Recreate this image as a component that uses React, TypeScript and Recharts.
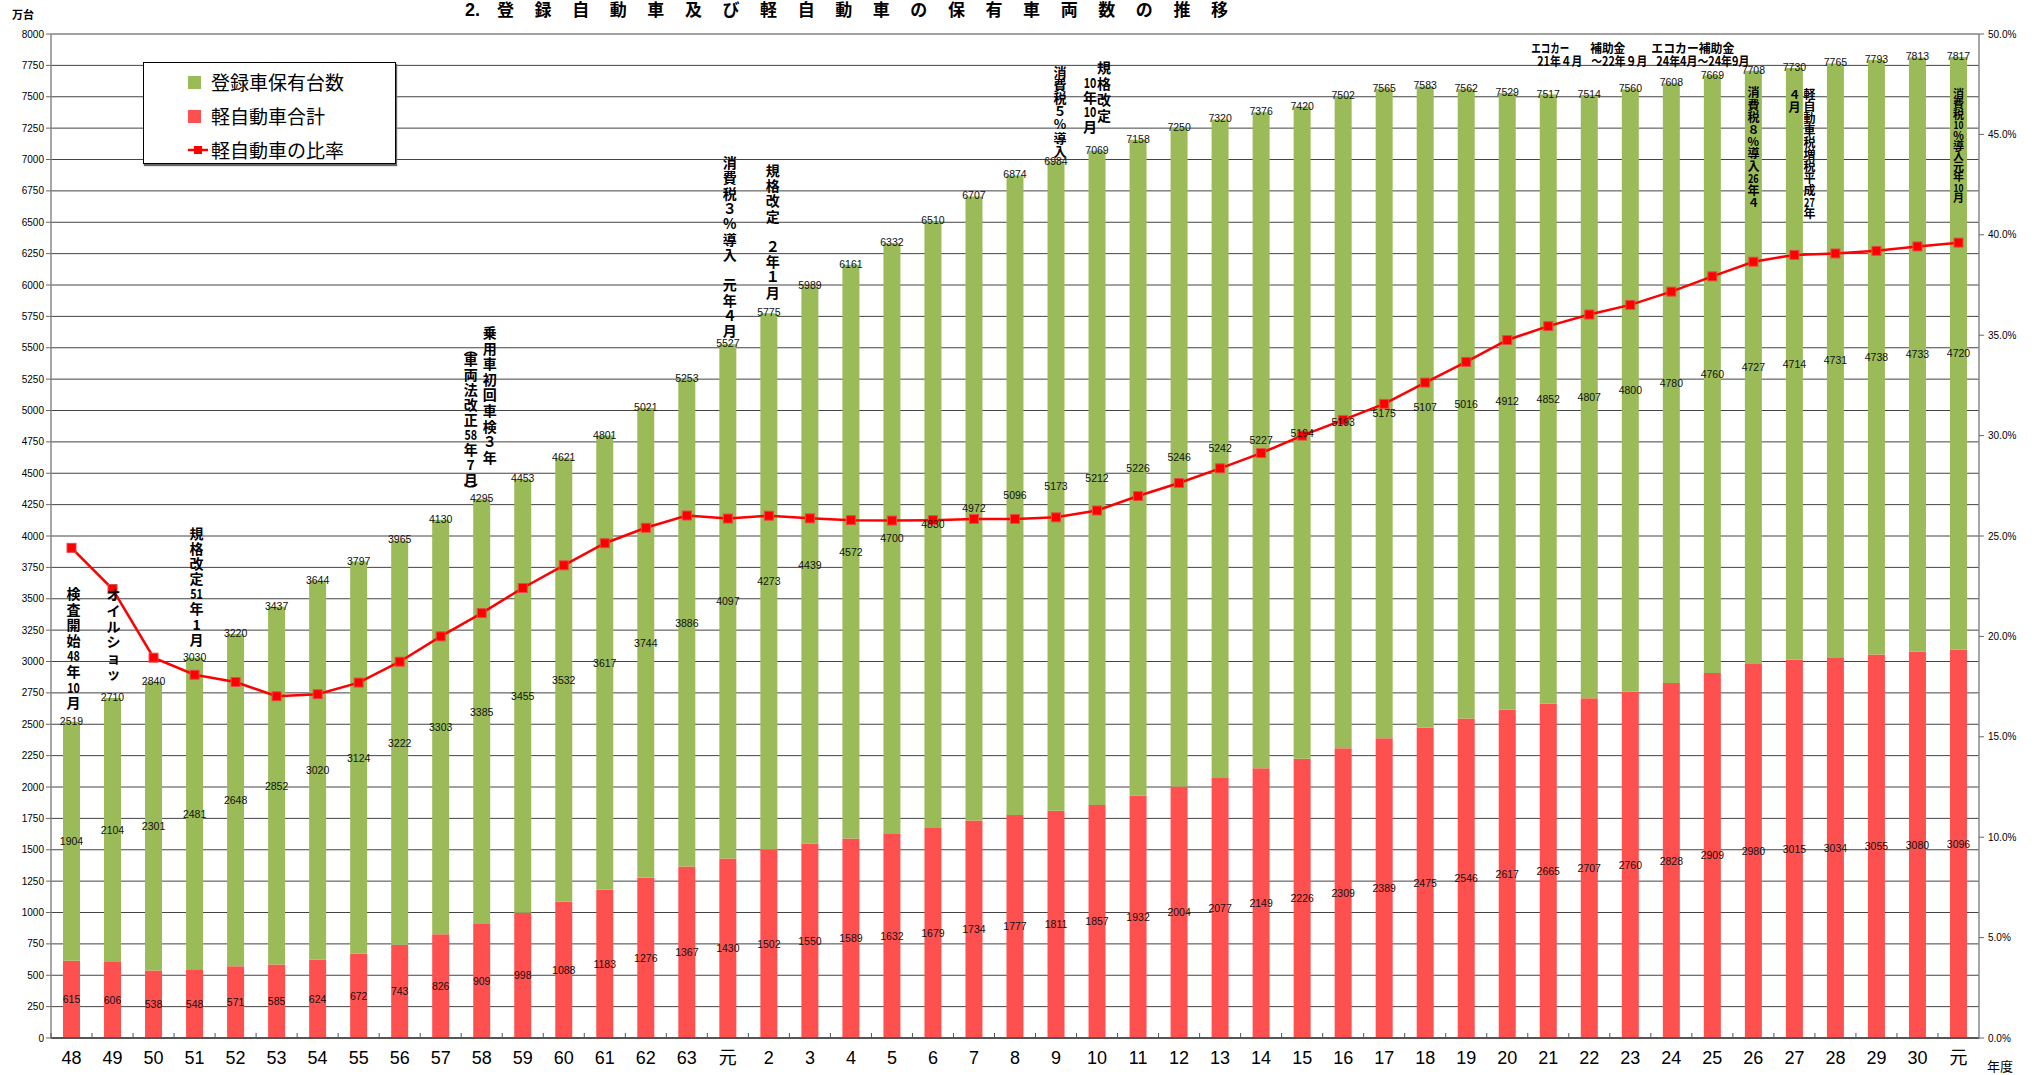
import React from 'react';
import { ComposedChart, Bar, Line, XAxis, YAxis, CartesianGrid, LabelList, ReferenceDot } from 'recharts';

const JP = '"Noto Sans CJK JP", "Noto Sans", sans-serif';
const NUM = '"Liberation Sans", Arial, "Noto Sans CJK JP", sans-serif';

const years = ['48', '49', '50', '51', '52', '53', '54', '55', '56', '57', '58', '59', '60', '61', '62', '63', '元',
  '2', '3', '4', '5', '6', '7', '8', '9', '10', '11', '12', '13', '14', '15', '16', '17', '18', '19', '20',
  '21', '22', '23', '24', '25', '26', '27', '28', '29', '30', '元'];

// 登録車保有台数 (green)
const registered = [1904, 2104, 2301, 2481, 2648, 2852, 3020, 3124, 3222, 3303, 3385, 3455, 3532, 3617, 3744, 3886, 4097,
  4273, 4439, 4572, 4700, 4830, 4972, 5096, 5173, 5212, 5226, 5246, 5242, 5227, 5194, 5193, 5175, 5107, 5016, 4912,
  4852, 4807, 4800, 4780, 4760, 4727, 4714, 4731, 4738, 4733, 4720];

// 軽自動車合計 (red)
const keiTotal = [615, 606, 538, 548, 571, 585, 624, 672, 743, 826, 909, 998, 1088, 1183, 1276, 1367, 1430,
  1502, 1550, 1589, 1632, 1679, 1734, 1777, 1811, 1857, 1932, 2004, 2077, 2149, 2226, 2309, 2389, 2475, 2546, 2617,
  2665, 2707, 2760, 2828, 2909, 2980, 3015, 3034, 3055, 3080, 3096];

// total labels on top of bars
const allTotal = [2519, 2710, 2840, 3030, 3220, 3437, 3644, 3797, 3965, 4130, 4295, 4453, 4621, 4801, 5021, 5253, 5527,
  5775, 5989, 6161, 6332, 6510, 6707, 6874, 6984, 7069, 7158, 7250, 7320, 7376, 7420, 7502, 7565, 7583, 7562, 7529,
  7517, 7514, 7560, 7608, 7669, 7708, 7730, 7765, 7793, 7813, 7817];

// 軽自動車の比率 (%)
const keiRatio = [24.41, 22.36, 18.94, 18.09, 17.73, 17.02, 17.12, 17.7, 18.74, 20.0, 21.16, 22.41, 23.54, 24.64, 25.41, 26.02, 25.87,
  26.01, 25.88, 25.79, 25.77, 25.79, 25.85, 25.85, 25.93, 26.27, 26.99, 27.64, 28.37, 29.13, 30.0, 30.78, 31.58, 32.64, 33.67, 34.76,
  35.45, 36.03, 36.51, 37.17, 37.93, 38.66, 39.0, 39.07, 39.2, 39.42, 39.61];

const leftTicks = [0, 250, 500, 750, 1000, 1250, 1500, 1750, 2000, 2250, 2500, 2750, 3000, 3250, 3500, 3750, 4000,
  4250, 4500, 4750, 5000, 5250, 5500, 5750, 6000, 6250, 6500, 6750, 7000, 7250, 7500, 7750, 8000];
const rightTicks = [0, 5, 10, 15, 20, 25, 30, 35, 40, 45, 50];

// vertical notes: anchored at a bar (index) and a value on the left axis
const notes = [
  { at: 0, y: 3546, dx: 2, step: 15.6, size: 14, tokens: ['検', '査', '開', '始', '48', '年', '10', '月'] },
  { at: 1, y: 3538, dx: 1, step: 15.8, size: 14, tokens: ['オ', 'イ', 'ル', 'シ', 'ョ', 'ッ'] },
  { at: 3, y: 4024, dx: 2, step: 15.1, size: 14, tokens: ['規', '格', '改', '定', '51', '年', '1', '月'] },
  { at: 10, y: 5625, dx: 8, step: 15.6, size: 14, tokens: ['乗', '用', '車', '初', '回', '車', '検', '３', '年'] },
  { at: 10, y: 5498, dx: -11, step: 15, size: 14, tokens: ['︵', '車', '両', '法', '改', '正', '58', '年', '7', '月', '︶'] },
  { at: 16, y: 6980, dx: 2, step: 15.3, size: 14, tokens: ['消', '費', '税', '３', '%', '導', '入', '', '元', '年', '４', '月'] },
  { at: 17, y: 6916, dx: 4, step: 15.2, size: 14, tokens: ['規', '格', '改', '定', '', '２', '年', '１', '月'] },
  { at: 24, y: 7705, dx: 4, step: 13.2, size: 13, tokens: ['消', '費', '税', '５', '%', '導', '入'] },
  { at: 25, y: 7737, dx: 7, step: 16, size: 14, tokens: ['規', '格', '改', '定'] },
  { at: 25, y: 7618, dx: -7, step: 14.7, size: 14, tokens: ['10', '年', '10', '月'] },
  { at: 41, y: 7538, dx: 0, step: 12.2, size: 12, tokens: ['消', '費', '税', '８', '%', '導', '入', '26', '年', '４'] },
  { at: 42, y: 7522, dx: 0, step: 13, size: 12, tokens: ['４', '月'] },
  { at: 42, y: 7522, dx: 15, step: 11.9, size: 12, tokens: ['軽', '自', '動', '車', '税', '増', '税', '平', '成', '27', '年'] },
  { at: 46, y: 7530, dx: 0, step: 10.4, size: 11, tokens: ['消', '費', '税', '10', '%', '導', '入', '元', '年', '10', '月'] },
];

// horizontal notes near the top
const topNotes = [
  { at: 36, y: 7896, dx: -17, w: 38, text: 'エコカー' },
  { at: 36, y: 7896, dx: 42, w: 35, text: '補助金' },
  { at: 36, y: 7785, dx: -11, w: 45, text: '21年４月' },
  { at: 36, y: 7785, dx: 43, w: 56, text: '～22年９月' },
  { at: 39, y: 7896, dx: -20, w: 83, text: 'エコカー補助金' },
  { at: 39, y: 7785, dx: -15, w: 93, text: '24年4月～24年9月' },
];

const data = years.map((y, i) => ({
  key: String(i),
  kei: keiTotal[i],
  reg: registered[i],
  total: allTotal[i],
  ratio: keiRatio[i],
}));

const isParen = (t: string) => t === '︵' || t === '︶';

function VNote({ cx, cy, note }: any) {
  let pos = cy;
  const out: any[] = [];
  note.tokens.forEach((t: string, i: number) => {
    if (i > 0) {
      const prev = note.tokens[i - 1];
      pos += isParen(prev) || isParen(t) ? note.step * 0.7 : note.step;
    }
    if (!t) return;
    const extra = t.length > 1 ? { textLength: note.size * 0.9, lengthAdjust: 'spacingAndGlyphs' } : {};
    out.push(
      <text key={i} x={cx + note.dx} y={pos} textAnchor="middle" dominantBaseline="central"
        fontSize={note.size} fontWeight={700} fontFamily={JP} fill="#000" {...extra}>{t}</text>
    );
  });
  return <g>{out}</g>;
}

function HNote({ cx, cy, note }: any) {
  return (
    <text x={cx + note.dx} y={cy} textAnchor="start" dominantBaseline="central" textLength={note.w}
      lengthAdjust="spacingAndGlyphs" fontSize={12.5} fontWeight={700} fontFamily={JP} fill="#000">{note.text}</text>
  );
}

const vb = (p: any) => p.viewBox || p;

const centerLabel = (p: any) => {
  const { x, y, width, height } = vb(p);
  return (
    <text x={x + width / 2} y={y + height / 2} textAnchor="middle" dominantBaseline="central"
      fontSize={10.5} fontFamily={NUM} fill="#111">{p.value}</text>
  );
};

const topLabel = (p: any) => {
  const { x, y, width } = vb(p);
  return (
    <text x={x + width / 2} y={y - 1} textAnchor="middle" dominantBaseline="central"
      fontSize={10.5} fontFamily={NUM} fill="#111">{p.value}</text>
  );
};

const SquareDot = (p: any) => {
  const { cx, cy } = p;
  if (cx == null || cy == null) return null;
  return <rect x={cx - 4.5} y={cy - 4.5} width={9} height={9} fill="#FF0000" stroke="#E84A4A" strokeWidth={1} />;
};

const XTick = (p: any) => {
  const { x, y, payload } = p;
  const half = payload && payload.offset ? payload.offset : 20.5;
  return (
    <g>
      <line x1={x - half} x2={x - half} y1={y} y2={y - 5} stroke="#555" strokeWidth={1} />
      <text x={x} y={y + 20} textAnchor="middle" dominantBaseline="central" fontSize={18}
        fontFamily={NUM} fill="#000">{years[Number(payload.value)]}</text>
    </g>
  );
};

export default function App() {
  return (
    <div style={{ position: 'absolute', left: 0, top: 0, width: 2037, height: 1075, background: '#fff' }}>
      <ComposedChart width={2037} height={1075} data={data} margin={{ top: 34, right: 0, bottom: 0, left: 0 }}>
        <CartesianGrid yAxisId="left" vertical={false} stroke="#444" strokeWidth={1} />
        <XAxis dataKey="key" height={37} interval={0} tickLine={false} tickSize={0} tickMargin={0}
          axisLine={{ stroke: '#555', strokeWidth: 2 }} tick={<XTick />} />
        <YAxis yAxisId="left" domain={[0, 8000]} ticks={leftTicks} interval={0} width={51}
          tickSize={5} tickMargin={2} axisLine={{ stroke: '#888', strokeWidth: 1.5 }} tickLine={{ stroke: '#666' }}
          tick={{ fontSize: 10, fill: '#000', fontFamily: NUM }} />
        <YAxis yAxisId="right" orientation="right" domain={[0, 50]} ticks={rightTicks} interval={0} width={58}
          tickSize={5} tickMargin={4} axisLine={{ stroke: '#888', strokeWidth: 1.5 }} tickLine={{ stroke: '#666' }}
          tick={{ fontSize: 10, fill: '#000', fontFamily: NUM }} tickFormatter={(v: number) => v.toFixed(1) + '%'} />
        <Bar yAxisId="left" dataKey="kei" stackId="a" fill="#FF5050" barSize={17} isAnimationActive={false}>
          <LabelList dataKey="kei" content={centerLabel} />
        </Bar>
        <Bar yAxisId="left" dataKey="reg" stackId="a" fill="#9BBB59" barSize={17} isAnimationActive={false}>
          <LabelList dataKey="reg" content={centerLabel} />
          <LabelList dataKey="total" content={topLabel} />
        </Bar>
        <Line yAxisId="right" type="linear" dataKey="ratio" stroke="#FF0000" strokeWidth={2.5}
          dot={<SquareDot />} activeDot={false} isAnimationActive={false} />
        {notes.map((n, i) => (
          <ReferenceDot key={'n' + i} yAxisId="left" x={String(n.at)} y={n.y} r={0}
            shape={(p: any) => <VNote cx={p.cx} cy={p.cy} note={n} />} />
        ))}
        {topNotes.map((n, i) => (
          <ReferenceDot key={'t' + i} yAxisId="left" x={String(n.at)} y={n.y} r={0}
            shape={(p: any) => <HNote cx={p.cx} cy={p.cy} note={n} />} />
        ))}
      </ComposedChart>

      <svg width={2037} height={1075} style={{ position: 'absolute', left: 0, top: 0, pointerEvents: 'none' }}>
        <text x={465} y={16} fontSize={18} fontWeight={700} fontFamily={NUM} fill="#000">2.</text>
        <text x={497} y={16} textLength={731} lengthAdjust="spacing" fontSize={17} fontWeight={700}
          fontFamily={JP} fill="#000">登録自動車及び軽自動車の保有車両数の推移</text>
        <text x={12} y={14} dominantBaseline="central" fontSize={11} fontWeight={700} fontFamily={JP} fill="#000">万台</text>
        <text x={1987} y={1065} dominantBaseline="central" fontSize={13} fontFamily={JP} fill="#000">年度</text>
      </svg>

      <div style={{
        position: 'absolute', left: 143, top: 62, width: 253, height: 102, boxSizing: 'border-box',
        border: '1px solid #000', boxShadow: '1px 2px 1px #666', background: '#fff', fontFamily: JP,
        fontSize: 19, color: '#000',
      }}>
        {[
          { label: '登録車保有台数', color: '#9BBB59', line: false },
          { label: '軽自動車合計', color: '#FF5050', line: false },
          { label: '軽自動車の比率', color: '#FF0000', line: true },
        ].map((it, i) => (
          <div key={i} style={{ position: 'absolute', left: 44, top: 6 + i * 34, height: 26, display: 'flex', alignItems: 'center' }}>
            {it.line ? (
              <svg width={20} height={14} style={{ marginRight: 3 }}>
                <line x1={0} x2={20} y1={7} y2={7} stroke={it.color} strokeWidth={2.5} />
                <rect x={6} y={3} width={8} height={8} fill={it.color} />
              </svg>
            ) : (
              <div style={{ width: 13, height: 13, background: it.color, marginRight: 10 }} />
            )}
            <span style={{ lineHeight: '26px' }}>{it.label}</span>
          </div>
        ))}
      </div>
    </div>
  );
}
